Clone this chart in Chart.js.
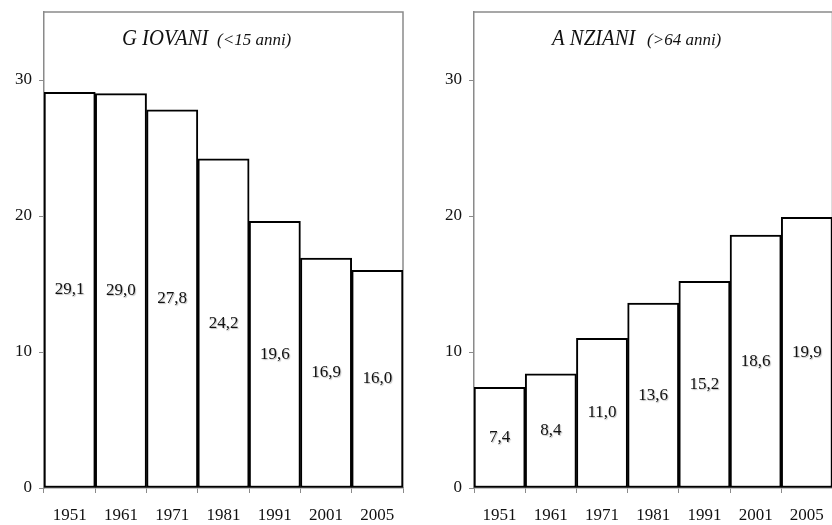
<!DOCTYPE html>
<html>
<head>
<meta charset="utf-8">
<script src="https://cdn.jsdelivr.net/npm/chart.js@4"></script>
<style>
  html, body { margin: 0; padding: 0; background: #fff; overflow: hidden; }
  #wrap { position: relative; width: 832px; height: 525px; }
  #boxL { position: absolute; left: 0; top: 0; width: 416px; height: 525px; }
  #boxR { position: absolute; left: 416px; top: 0; width: 420px; height: 525px; }
</style>
</head>
<body>
<div id="wrap">
  <div id="boxL"><canvas id="chartGiovani"></canvas></div>
  <div id="boxR"><canvas id="chartAnziani"></canvas></div>
</div>
<script>
// anni di censimento
const years = ['1951', '1961', '1971', '1981', '1991', '2001', '2005'];
// quota giovani (<15 anni), %
const giovani = [29.1, 29.0, 27.8, 24.2, 19.6, 16.9, 16.0];
// quota anziani (>64 anni), %
const anziani = [7.4, 8.4, 11.0, 13.6, 15.2, 18.6, 19.9];
// tacche asse y
const yTicks = [0, 10, 20, 30];
const yMax = 35;

const SERIF = '"Liberation Serif", "DejaVu Serif", serif';
const FRAME = '#8a8a8a';

// cornice grigia (lati sopra e destra) + titolo dentro il grafico
const framePlugin = {
    id: 'frame',
    beforeDatasetsDraw(chart) {
        const { ctx, chartArea: a } = chart;
        ctx.save();
        ctx.strokeStyle = FRAME;
        ctx.lineWidth = 1.5;
        ctx.beginPath();
        ctx.moveTo(a.left, a.top);
        ctx.lineTo(a.right, a.top);
        ctx.lineTo(a.right, a.bottom);
        ctx.stroke();
        ctx.restore();
    },
    afterDraw(chart, args, opts) {
        const { ctx, chartArea: a } = chart;
        const x = a.left + 78;
        ctx.save();
        ctx.fillStyle = '#111';
        ctx.textBaseline = 'alphabetic';
        // titolo principale un po' stretto come nell'originale
        ctx.save();
        ctx.translate(x, 45);
        ctx.scale(0.9, 1);
        ctx.font = 'italic 23px ' + SERIF;
        ctx.fillText(opts.main, 0, 0);
        ctx.restore();
        ctx.font = 'italic 17px ' + SERIF;
        ctx.fillText(opts.sub, x + 95, 45);
        ctx.restore();
    }
};

// etichette dei valori al centro delle barre
const valueLabels = {
    id: 'valueLabels',
    afterDatasetsDraw(chart) {
        const { ctx } = chart;
        const meta = chart.getDatasetMeta(0);
        const data = chart.data.datasets[0].data;
        ctx.save();
        ctx.font = '17px ' + SERIF;
        ctx.textAlign = 'center';
        ctx.textBaseline = 'middle';
        ctx.fillStyle = '#111';
        ctx.shadowColor = 'rgba(0,0,0,0.25)';
        ctx.shadowOffsetX = 1;
        ctx.shadowOffsetY = 1;
        ctx.shadowBlur = 1;
        meta.data.forEach((bar, i) => {
            const midY = (bar.y + bar.base) / 2;
            ctx.fillText(data[i].toFixed(1).replace('.', ','), bar.x, midY);
        });
        ctx.restore();
    }
};

function makeChart(id, values, title, axisWidth, padRight) {
    return new Chart(document.getElementById(id), {
        type: 'bar',
        data: {
            labels: years,
            datasets: [{
                data: values,
                backgroundColor: '#ffffff',
                borderColor: '#000000',
                borderWidth: 2,
                borderSkipped: false,
                categoryPercentage: 1,
                barPercentage: 1
            }]
        },
        options: {
            responsive: true,
            maintainAspectRatio: false,
            animation: false,
            layout: { padding: { top: 12, right: padRight, left: 0, bottom: 0 } },
            plugins: {
                legend: { display: false },
                tooltip: { enabled: false },
                frame: title
            },
            scales: {
                x: {
                    grid: {
                        display: true,
                        drawOnChartArea: false,
                        offset: true,
                        tickLength: 5,
                        color: FRAME
                    },
                    border: { display: true, color: FRAME, width: 1.5 },
                    ticks: {
                        color: '#111',
                        font: { family: SERIF, size: 17 },
                        padding: 12,
                        maxRotation: 0
                    },
                    afterFit(scale) { scale.height = 37; }
                },
                y: {
                    min: 0,
                    max: yMax,
                    afterBuildTicks(scale) {
                        scale.ticks = yTicks.map(v => ({ value: v }));
                    },
                    grid: {
                        display: true,
                        drawOnChartArea: false,
                        tickLength: 5,
                        color: FRAME
                    },
                    border: { display: true, color: FRAME, width: 1.5 },
                    ticks: {
                        color: '#111',
                        font: { family: SERIF, size: 17 },
                        padding: 7
                    },
                    afterFit(scale) {
                        scale.width = axisWidth;
                        scale.paddingTop = 0;
                    }
                }
            }
        },
        plugins: [framePlugin, valueLabels]
    });
}

makeChart('chartGiovani', giovani, { main: 'G IOVANI', sub: '(<15 anni)' }, 44, 13);
makeChart('chartAnziani', anziani, { main: 'A NZIANI', sub: '(>64 anni)' }, 58, 2);
</script>
</body>
</html>
